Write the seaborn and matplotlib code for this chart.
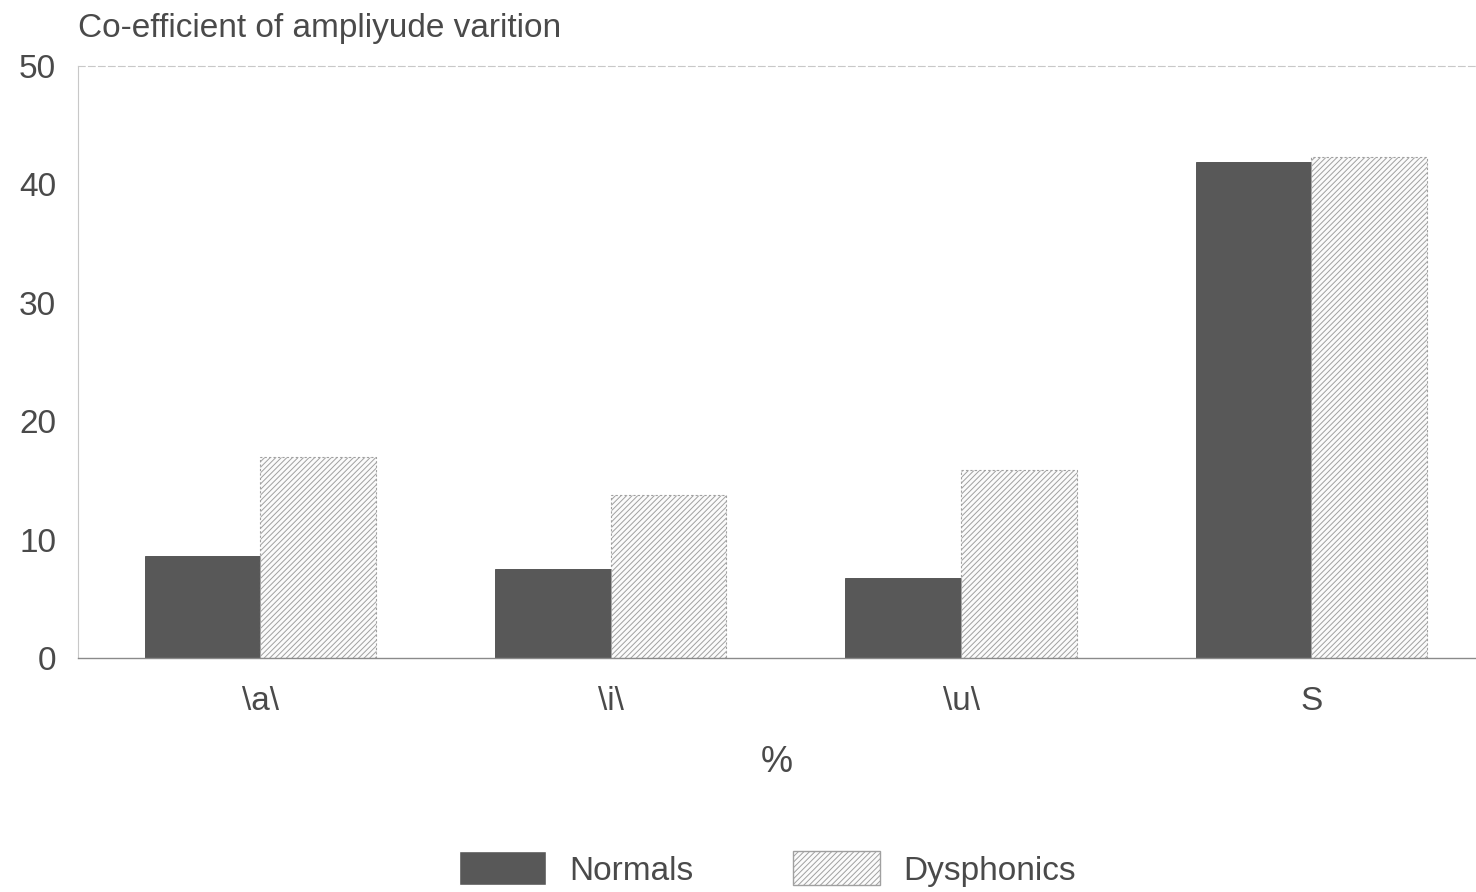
import pandas as pd
import numpy as np
import matplotlib
matplotlib.use("Agg")
import matplotlib.pyplot as plt
import seaborn as sns

categories = ['\\a\\', '\\i\\', '\\u\\', 'S']
normals = [8.6, 7.5, 6.8, 41.9]
dysphonics = [17.0, 13.8, 15.9, 42.3]

df = pd.DataFrame({
    'vowel': categories * 2,
    'value': normals + dysphonics,
    'group': ['Normals'] * 4 + ['Dysphonics'] * 4,
})

sns.set_style('white')
plt.rcParams['font.family'] = ['Liberation Sans', 'DejaVu Sans']
plt.rcParams['hatch.color'] = '#bdbdbd'
plt.rcParams['hatch.linewidth'] = 0.7

txt = '#4a4a4a'
fs = 24
fig = plt.figure(figsize=(14.76, 8.92), dpi=100)
ax = fig.add_axes([0.053, 0.262, 0.947, 0.664])

sns.barplot(data=df, x='vowel', y='value', hue='group', order=categories,
            hue_order=['Normals', 'Dysphonics'], palette=['#585858', '#fbfbfb'],
            width=0.66, saturation=1, gap=0, ax=ax, legend=True)

n = len(categories)
for i, p in enumerate(ax.patches[:2 * n]):
    if i < n:
        p.set_edgecolor('#4a4a4a')
        p.set_linewidth(0.6)
    else:
        p.set_hatch('//////')
        p.set_edgecolor('#a0a0a0')
        p.set_linewidth(0.8)
        p.set_linestyle((0, (2, 2)))

ax.set_ylim(0, 50)
ax.set_xlim(-0.52, 3.47)
ax.set_yticks([0, 10, 20, 30, 40, 50])
ax.tick_params(axis='both', length=0, labelsize=fs, colors=txt)
ax.tick_params(axis='x', pad=20)
ax.tick_params(axis='y', pad=16)
ax.set_xlabel('%', fontsize=fs + 2, color=txt, labelpad=20)
ax.set_ylabel('')

for s in ['left', 'top']:
    ax.spines[s].set_color('#c8c8c8')
    ax.spines[s].set_linewidth(0.8)
ax.spines['top'].set_linestyle((0, (6, 3)))
ax.spines['right'].set_visible(False)
ax.spines['bottom'].set_color('#8a8a8a')
ax.spines['bottom'].set_linewidth(1.0)

fig.text(0.053, 0.968, 'Co-efficient of ampliyude varition', fontsize=fs,
         color=txt, ha='left', va='center')

leg = ax.legend(loc='upper center', bbox_to_anchor=(0.493, -0.275), ncol=2,
                frameon=False, fontsize=fs, handlelength=2.6, handleheight=1.2,
                columnspacing=3.0, handletextpad=0.7)
for t in leg.get_texts():
    t.set_color(txt)
handles = leg.legend_handles
handles[0].set_facecolor('#585858')
handles[1].set_hatch('//////')
handles[1].set_edgecolor('#a0a0a0')
handles[1].set_facecolor('#fbfbfb')

fig.savefig('out.png', dpi=100)
